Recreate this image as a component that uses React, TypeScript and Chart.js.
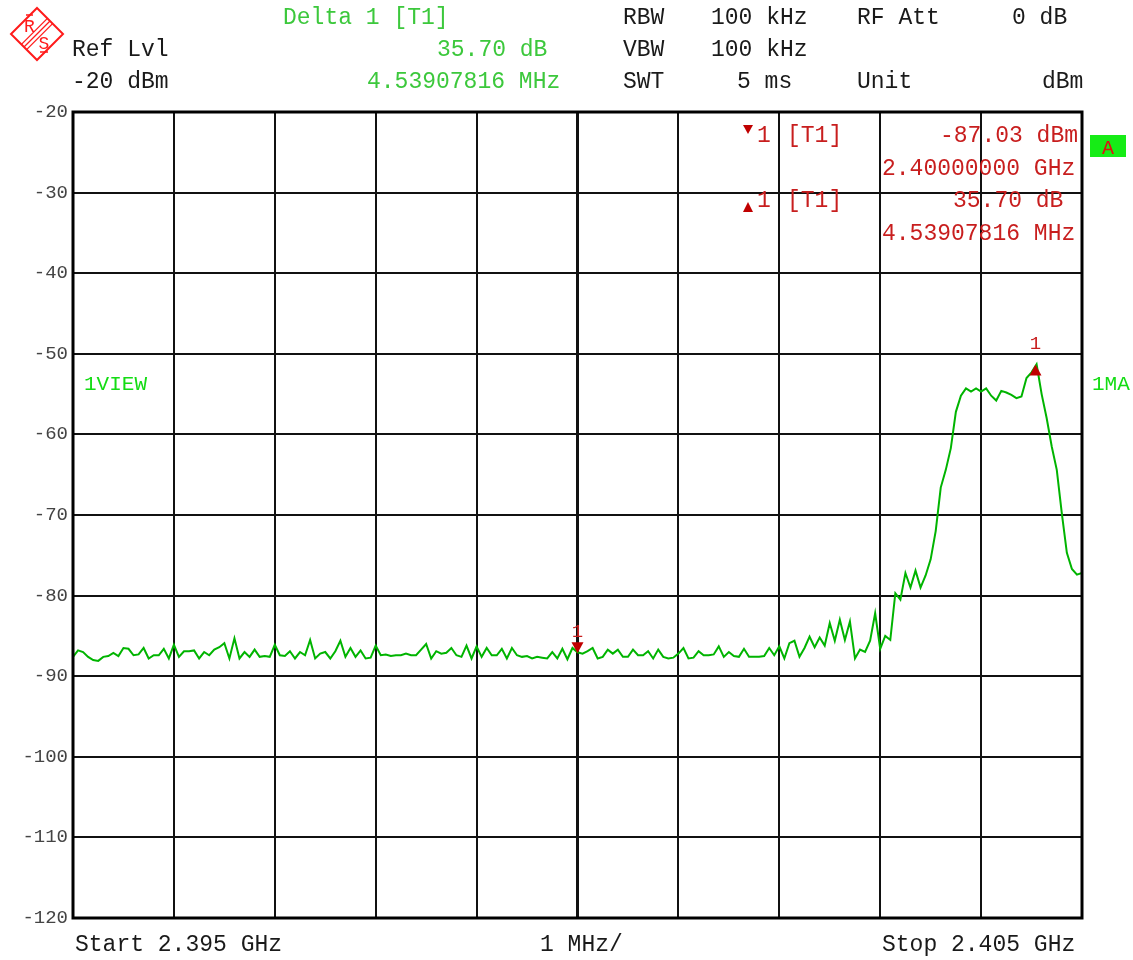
import React, { useEffect, useRef } from "react";
import { Chart, registerables } from "chart.js";

Chart.register(...registerables);

// ---- data ----
const START_MHZ = 2395;
const STOP_MHZ = 2405;
const STEP_MHZ = 0.05;
const DIV_MHZ = 1;

const traceLevels: number[] = [
  -87.6, -86.8, -87.0, -87.6, -88.0, -88.1, -87.6, -87.5, -87.1, -87.5,
  -86.5, -86.6, -87.4, -87.3, -86.5, -87.8, -87.4, -87.4, -86.6, -87.8,
  -86.1, -87.6, -86.9, -86.9, -86.8, -87.8, -87.0, -87.4, -86.7, -86.4,
  -85.9, -87.8, -85.3, -87.8, -87.0, -87.6, -86.7, -87.6, -87.5, -87.6,
  -86.1, -87.4, -87.5, -86.9, -87.8, -87.0, -87.4, -85.5, -87.8, -87.2,
  -87.0, -87.8, -86.9, -85.6, -87.6, -86.5, -87.6, -86.8, -87.8, -87.7,
  -86.2, -87.4, -87.3, -87.5, -87.4, -87.4, -87.2, -87.4, -87.4, -86.7,
  -86.0, -87.8, -86.9, -87.2, -87.1, -86.5, -87.4, -87.6, -86.2, -87.8,
  -86.3, -87.6, -86.5, -87.4, -87.4, -86.6, -87.8, -86.5, -87.4, -87.6,
  -87.5, -87.8, -87.6, -87.7, -87.8, -87.0, -87.8, -86.6, -87.9, -86.5,
  -87.03, -87.2, -86.9, -86.5, -87.8, -87.6, -86.7, -87.2, -86.7, -87.6,
  -87.6, -86.7, -87.4, -87.4, -86.9, -87.8, -86.7, -87.6, -87.8, -87.7,
  -87.2, -86.5, -87.8, -87.7, -86.9, -87.4, -87.4, -87.3, -86.3, -87.6,
  -87.0, -87.5, -87.6, -86.6, -87.6, -87.6, -87.6, -87.5, -86.5, -87.4,
  -86.3, -87.8, -85.9, -85.6, -87.6, -86.5, -85.1, -86.4, -85.2, -86.2,
  -83.4, -85.6, -83.0, -85.5, -83.2, -87.8, -86.7, -87.0, -85.6, -82.2,
  -86.6, -85.0, -85.5, -79.7, -80.5, -77.2, -79.0, -76.9, -79.0, -77.5,
  -75.5, -72.0, -66.6, -64.4, -61.7, -57.2, -55.2, -54.3, -54.7, -54.3,
  -54.7, -54.3, -55.2, -55.8, -54.6, -54.8, -55.1, -55.5, -55.3, -53.0,
  -52.3, -51.3, -55.0, -58.0, -61.5, -64.4, -69.8, -74.7, -76.7, -77.4,
  -77.2,
];

const yTickValues: number[] = [-20, -30, -40, -50, -60, -70, -80, -90, -100, -110, -120];

const marker1Freq = 2400.0;
const marker1Level = -87.03;
const deltaFreqMHz = 4.53907816;
const deltaLevelDb = 35.7;

const headerGreen: [string, number, number][] = [
  ["Delta 1 [T1]", 283, 24],
  ["35.70 dB", 437, 56],
  ["4.53907816 MHz", 367, 88],
];
const headerDark: [string, number, number][] = [
  ["RBW", 623, 24],
  ["100 kHz", 711, 24],
  ["RF Att", 857, 24],
  ["0 dB", 1012, 24],
  ["Ref Lvl", 72, 56],
  ["VBW", 623, 56],
  ["100 kHz", 711, 56],
  ["-20 dBm", 72, 88],
  ["SWT", 623, 88],
  ["5 ms", 737, 88],
  ["Unit", 857, 88],
  ["dBm", 1042, 88],
];
const markerInfo: [string, number, number][] = [
  ["1", 757, 142],
  ["[T1]", 787, 142],
  ["-87.03 dBm", 940, 142],
  ["2.40000000 GHz", 882, 175],
  ["1", 757, 207],
  ["[T1]", 787, 207],
  ["35.70 dB", 953, 207],
  ["4.53907816 MHz", 882, 240],
];
const footer: [string, number, number][] = [
  ["Start 2.395 GHz", 75, 951],
  ["1 MHz/", 540, 951],
  ["Stop 2.405 GHz", 882, 951],
];

const MONO = "'Liberation Mono', 'DejaVu Sans Mono', monospace";
const RED = "#c81e1e";

function txt(ctx: CanvasRenderingContext2D, s: string, x: number, y: number, color: string, size = 23, align: CanvasTextAlign = "left") {
  ctx.save();
  ctx.font = `${size}px ${MONO}`;
  ctx.fillStyle = color;
  ctx.textAlign = align;
  ctx.textBaseline = "alphabetic";
  ctx.fillText(s, x, y);
  ctx.restore();
}

function tri(ctx: CanvasRenderingContext2D, cx: number, tipY: number, down: boolean, w = 12, h = 11) {
  ctx.beginPath();
  if (down) {
    ctx.moveTo(cx - w / 2, tipY - h);
    ctx.lineTo(cx + w / 2, tipY - h);
    ctx.lineTo(cx, tipY);
  } else {
    ctx.moveTo(cx - w / 2, tipY + h);
    ctx.lineTo(cx + w / 2, tipY + h);
    ctx.lineTo(cx, tipY);
  }
  ctx.closePath();
  ctx.fillStyle = "#c00000";
  ctx.fill();
}

const overlay = {
  id: "rsOverlay",
  beforeDraw(chart: any) {
    const ctx = chart.ctx;
    ctx.save();
    ctx.fillStyle = "#ffffff";
    ctx.fillRect(0, 0, chart.width, chart.height);
    ctx.restore();
  },
  afterDatasetsDraw(chart: any) {
    const ctx: CanvasRenderingContext2D = chart.ctx;
    const xs = chart.scales.x;
    const ys = chart.scales.y;
    // marker 1
    const m1x = xs.getPixelForValue(marker1Freq);
    const m1y = ys.getPixelForValue(marker1Level);
    tri(ctx, m1x, m1y + 1, true);
    txt(ctx, "1", m1x, m1y - 15, RED, 19, "center");
    // delta marker
    const dx = xs.getPixelForValue(marker1Freq + deltaFreqMHz);
    const dy = ys.getPixelForValue(marker1Level + deltaLevelDb);
    tri(ctx, dx, dy, false);
    txt(ctx, "1", dx, dy - 16, RED, 19, "center");
  },
  afterDraw(chart: any) {
    const ctx: CanvasRenderingContext2D = chart.ctx;
    const a = chart.chartArea;
    // frame
    ctx.save();
    ctx.strokeStyle = "#000";
    ctx.lineWidth = 3;
    ctx.strokeRect(a.left, a.top, a.right - a.left, a.bottom - a.top);
    ctx.restore();

    // header
    headerGreen.forEach(([s, x, y]) => txt(ctx, s, x, y, "#3cc83c"));
    headerDark.forEach(([s, x, y]) => txt(ctx, s, x, y, "#1a1a1a"));
    footer.forEach(([s, x, y]) => txt(ctx, s, x, y, "#1a1a1a"));
    markerInfo.forEach(([s, x, y]) => txt(ctx, s, x, y, RED));
    tri(ctx, 748, 134, true, 10, 9);
    tri(ctx, 748, 202, false, 10, 10);

    // side labels
    txt(ctx, "1VIEW", 84, 390, "#14dc14", 21);
    txt(ctx, "1MA", 1092, 390, "#14dc14", 21);
    ctx.save();
    ctx.fillStyle = "#16ec16";
    ctx.fillRect(1090, 135, 36, 22);
    ctx.restore();
    txt(ctx, "A", 1108, 154, "#e01010", 20, "center");

    // R&S logo
    ctx.save();
    ctx.strokeStyle = "#ff1a1a";
    ctx.lineWidth = 2;
    const cx = 37, cy = 34, r = 26;
    ctx.beginPath();
    ctx.moveTo(cx, cy - r);
    ctx.lineTo(cx + r, cy);
    ctx.lineTo(cx, cy + r);
    ctx.lineTo(cx - r, cy);
    ctx.closePath();
    ctx.stroke();
    ctx.lineWidth = 1.3;
    for (const off of [-2.6, 0, 2.6]) {
      ctx.beginPath();
      ctx.moveTo(cx - 13 + off, cy + 13 + off);
      ctx.lineTo(cx + 13 + off, cy - 13 + off);
      ctx.stroke();
    }
    ctx.beginPath();
    ctx.moveTo(26, 15);
    ctx.lineTo(33, 15);
    ctx.moveTo(40, 52);
    ctx.lineTo(48, 52);
    ctx.stroke();
    ctx.restore();
    txt(ctx, "R", 29.5, 32, "#ff1a1a", 18, "center");
    txt(ctx, "S", 44, 49, "#ff1a1a", 18, "center");
  },
};

export default function App() {
  const ref = useRef<HTMLCanvasElement | null>(null);

  useEffect(() => {
    if (!ref.current) return;
    const points = traceLevels.map((v, i) => ({ x: START_MHZ + i * STEP_MHZ, y: v }));
    const chart = new Chart(ref.current, {
      type: "line",
      data: {
        datasets: [
          {
            label: "1MA",
            data: points,
            borderColor: "#00b400",
            borderWidth: 2,
            pointRadius: 0,
            tension: 0,
            fill: false,
          },
        ],
      },
      options: {
        responsive: false,
        animation: false,
        devicePixelRatio: 1,
        layout: { padding: { top: 112, right: 51, bottom: 42, left: 0 } },
        plugins: {
          legend: { display: false },
          tooltip: { enabled: false },
          title: { display: false },
        },
        scales: {
          x: {
            type: "linear",
            min: START_MHZ,
            max: STOP_MHZ,
            ticks: { display: false, stepSize: DIV_MHZ },
            grid: {
              color: "#111",
              lineWidth: (c: any) => (c.tick && Math.abs(c.tick.value - (START_MHZ + STOP_MHZ) / 2) < 1e-6 ? 3 : 2),
              drawTicks: false,
            },
            border: { display: false },
            afterFit: (s: any) => {
              s.height = 0;
            },
          },
          y: {
            type: "linear",
            min: yTickValues[yTickValues.length - 1],
            max: yTickValues[0],
            afterBuildTicks: (s: any) => {
              s.ticks = yTickValues.map((v) => ({ value: v }));
            },
            ticks: {
              color: "#444",
              padding: 5,
              font: { family: MONO, size: 19 },
              callback: (v: any) => `${v}`,
            },
            grid: { color: "#111", lineWidth: 2, drawTicks: false },
            border: { display: false },
            afterFit: (s: any) => {
              s.width = 73;
            },
          },
        },
      },
      plugins: [overlay],
    } as any);
    return () => chart.destroy();
  }, []);

  return (
    <div style={{ position: "absolute", left: 0, top: 0, width: 1133, height: 960 }}>
      <canvas ref={ref} width={1133} height={960} style={{ display: "block" }} />
    </div>
  );
}
